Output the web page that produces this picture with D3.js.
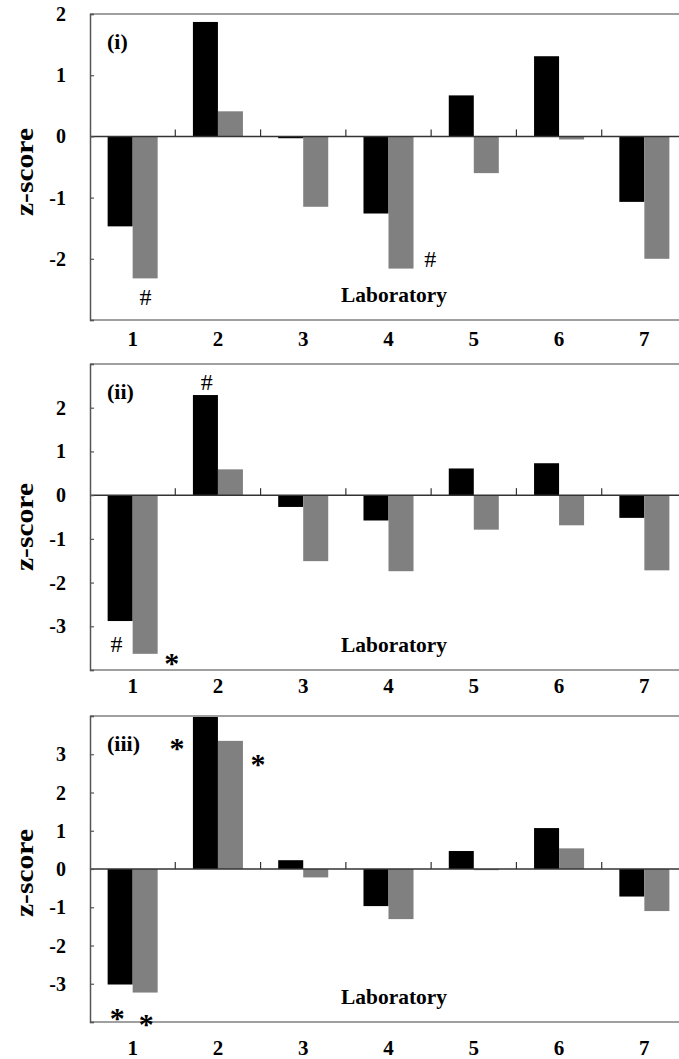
<!DOCTYPE html>
<html>
<head>
<meta charset="utf-8">
<script src="https://cdn.jsdelivr.net/npm/d3@7"></script>
<style>
  body { margin: 0; background: #fff; }
</style>
</head>
<body>
<svg id="chart" width="679" height="1059" font-family="'Liberation Serif', 'Times New Roman', serif"></svg>
<script>
// laboratories on the x axis
var labs = [1, 2, 3, 4, 5, 6, 7];

// z-scores, black and gray bar per laboratory
var blackI   = [-1.47, 1.87, -0.03, -1.26, 0.67, 1.31, -1.07];
var grayI    = [-2.32, 0.41, -1.15, -2.16, -0.60, -0.05, -2.00];
var blackII  = [-2.88, 2.29, -0.27, -0.58, 0.61, 0.73, -0.52];
var grayII   = [-3.63, 0.59, -1.51, -1.74, -0.79, -0.69, -1.72];
var blackIII = [-3.02, 4.00, 0.23, -0.97, 0.47, 1.07, -0.72];
var grayIII  = [-3.23, 3.35, -0.22, -1.31, -0.03, 0.54, -1.10];

// y tick labels per panel
var ticksI   = [2, 1, 0, -1, -2];
var ticksII  = [2, 1, 0, -1, -2, -3];
var ticksIII = [3, 2, 1, 0, -1, -2, -3];

// markers: [symbol, position along labs, z]
var marksI   = [["#", 1.15, -2.74], ["#", 4.49, -2.11]];
var marksII  = [["#", 1.87, 2.43], ["#", 0.81, -3.57], ["*", 1.46, -3.75]];
var marksIII = [["*", 1.52, 3.27], ["*", 2.47, 2.85], ["*", 0.82, -3.80], ["*", 1.16, -3.95]];

var svg = d3.select("#chart");
var left = 90, right = 687;

var panels = [
  {name: "(i)",   top: 14,  bottom: 320,  domain: [-3, 2], black: blackI,   gray: grayI,   ticks: ticksI,   marks: marksI,   xlab: 26, ztitle: 172},
  {name: "(ii)",  top: 364, bottom: 670,  domain: [-4, 3], black: blackII,  gray: grayII,  ticks: ticksII,  marks: marksII,  xlab: 23, ztitle: 527},
  {name: "(iii)", top: 716, bottom: 1022, domain: [-4, 4], black: blackIII, gray: grayIII, ticks: ticksIII, marks: marksIII, xlab: 33, ztitle: 873}
];

var x0 = d3.scaleBand().domain(labs).range([left, right]).padding(0);
var x1 = d3.scaleBand().domain(["black", "gray"]).range([0, x0.bandwidth()]).paddingInner(0).paddingOuter(0.705);
var xPos = d3.scaleLinear().domain([0.5, 7.5]).range([left, right]);
var color = {black: "#000000", gray: "#808080"};

panels.forEach(function(p){
  var y = d3.scaleLinear().domain(p.domain).range([p.bottom, p.top]);
  var g = svg.append("g");

  // bars
  var rows = labs.map(function(l, i){
    return [{lab: l, s: "black", v: p.black[i]}, {lab: l, s: "gray", v: p.gray[i]}];
  }).flat();
  g.selectAll("rect.bar").data(rows).enter().append("rect")
    .attr("class", "bar")
    .attr("x", function(d){ return x0(d.lab) + x1(d.s); })
    .attr("width", x1.bandwidth())
    .attr("y", function(d){ return y(Math.max(0, d.v)); })
    .attr("height", function(d){ return Math.abs(y(d.v) - y(0)); })
    .attr("fill", function(d){ return color[d.s]; });

  // frame lines top and bottom
  g.append("line").attr("x1", left).attr("x2", right).attr("y1", p.top).attr("y2", p.top)
    .attr("stroke", "#a0a0a0").attr("stroke-width", 2);
  g.append("line").attr("x1", left).attr("x2", right).attr("y1", p.bottom).attr("y2", p.bottom)
    .attr("stroke", "#a0a0a0").attr("stroke-width", 2);

  // zero line with category ticks
  g.append("line").attr("x1", left).attr("x2", right).attr("y1", y(0)).attr("y2", y(0))
    .attr("stroke", "#333").attr("stroke-width", 1.5);
  g.selectAll("line.ctick").data(labs.slice(1)).enter().append("line")
    .attr("class", "ctick")
    .attr("x1", function(d){ return x0(d); }).attr("x2", function(d){ return x0(d); })
    .attr("y1", y(0)).attr("y2", y(0) - 7)
    .attr("stroke", "#333").attr("stroke-width", 1.2);

  // y axis
  var yAxis = d3.axisRight(y).tickValues(d3.range(p.domain[0], p.domain[1] + 1)).tickSize(4).tickFormat("");
  var ax = g.append("g").attr("transform", "translate(" + left + ",0)").call(yAxis);
  ax.select(".domain").attr("stroke", "#555").attr("stroke-width", 1.5);
  ax.selectAll(".tick line").attr("stroke", "#555").attr("stroke-width", 1.2);

  g.selectAll("text.ytick").data(p.ticks).enter().append("text")
    .attr("class", "ytick")
    .attr("x", 66).attr("y", function(d){ return y(d); })
    .attr("dy", "0.35em")
    .attr("text-anchor", "end")
    .attr("font-size", 20).attr("font-weight", "bold")
    .text(function(d){ return d; });

  // x tick labels
  g.selectAll("text.xtick").data(labs).enter().append("text")
    .attr("class", "xtick")
    .attr("x", function(d){ return x0(d) + x0.bandwidth() / 2; })
    .attr("y", p.bottom + p.xlab)
    .attr("text-anchor", "middle")
    .attr("font-size", 21).attr("font-weight", "bold")
    .text(function(d){ return d; });

  // titles
  g.append("text").attr("x", 394).attr("y", p.bottom - 18)
    .attr("text-anchor", "middle")
    .attr("font-size", 21).attr("font-weight", "bold")
    .attr("textLength", 106).attr("lengthAdjust", "spacingAndGlyphs")
    .text("Laboratory");

  g.append("text")
    .attr("transform", "translate(33," + p.ztitle + ") rotate(-90)")
    .attr("text-anchor", "middle")
    .attr("font-size", 26).attr("font-weight", "bold")
    .attr("textLength", 88).attr("lengthAdjust", "spacingAndGlyphs")
    .text("z-score");

  g.append("text").attr("x", 107).attr("y", p.top + 35)
    .attr("font-size", 22).attr("font-weight", "bold")
    .text(p.name);

  // markers
  g.selectAll("text.mark").data(p.marks).enter().append("text")
    .attr("class", "mark")
    .attr("x", function(d){ return xPos(d[1]); })
    .attr("y", function(d){ return y(d[2]) + (d[0] === "*" ? 14 : 1); })
    .attr("text-anchor", "middle")
    .attr("font-size", function(d){ return d[0] === "*" ? 30 : 24; })
    .attr("font-weight", function(d){ return d[0] === "*" ? "bold" : "normal"; })
    .text(function(d){ return d[0]; });
});
</script>
</body>
</html>
